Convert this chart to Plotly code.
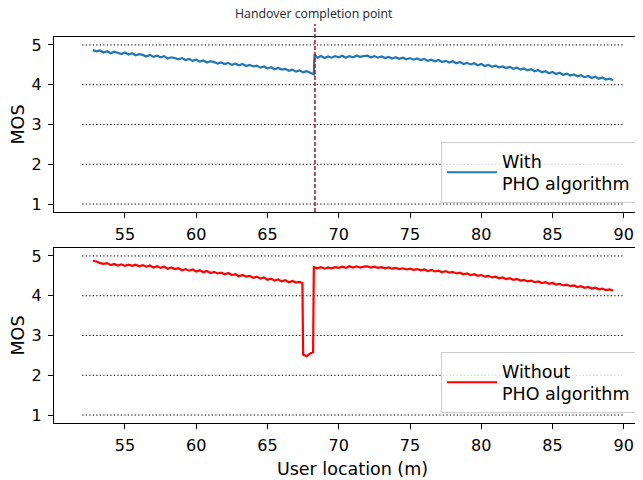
import plotly.graph_objects as go

# ---------------- data ----------------
x_with = [52.75, 53.0, 53.25, 53.5, 53.75, 54.0, 54.25, 54.5, 54.75, 55.0, 55.25, 55.5, 55.75, 56.0, 56.25,
          56.5, 56.75, 57.0, 57.25, 57.5, 57.75, 58.0, 58.25, 58.5, 58.75, 59.0, 59.25, 59.5, 59.75, 60.0,
          60.25, 60.5, 60.75, 61.0, 61.25, 61.5, 61.75, 62.0, 62.25, 62.5, 62.75, 63.0, 63.25, 63.5, 63.75,
          64.0, 64.25, 64.5, 64.75, 65.0, 65.25, 65.5, 65.75, 66.0, 66.25, 66.5, 66.75, 67.0, 67.25, 67.5,
          67.75, 68.0, 68.25,
          68.3, 68.5, 68.75, 69.0, 69.25, 69.5, 69.75, 70.0, 70.25, 70.5, 70.75, 71.0, 71.25, 71.5, 71.75,
          72.0, 72.25, 72.5, 72.75, 73.0, 73.25, 73.5, 73.75, 74.0, 74.25, 74.5, 74.75, 75.0, 75.25, 75.5,
          75.75, 76.0, 76.25, 76.5, 76.75, 77.0, 77.25, 77.5, 77.75, 78.0, 78.25, 78.5, 78.75, 79.0, 79.25,
          79.5, 79.75, 80.0, 80.25, 80.5, 80.75, 81.0, 81.25, 81.5, 81.75, 82.0, 82.25, 82.5, 82.75, 83.0,
          83.25, 83.5, 83.75, 84.0, 84.25, 84.5, 84.75, 85.0, 85.25, 85.5, 85.75, 86.0, 86.25, 86.5, 86.75,
          87.0, 87.25, 87.5, 87.75, 88.0, 88.25, 88.5, 88.75, 89.0, 89.25]
mos_with = [4.87, 4.84, 4.86, 4.81, 4.84, 4.79, 4.83, 4.80, 4.77, 4.81, 4.76, 4.79, 4.74, 4.77, 4.75,
            4.71, 4.75, 4.70, 4.73, 4.69, 4.72, 4.66, 4.69, 4.67, 4.64, 4.67, 4.62, 4.65, 4.60, 4.63,
            4.58, 4.61, 4.56, 4.59, 4.57, 4.53, 4.56, 4.52, 4.55, 4.50, 4.53, 4.49, 4.52, 4.47, 4.50,
            4.46, 4.48, 4.43, 4.46, 4.41, 4.44, 4.39, 4.42, 4.38, 4.40, 4.35, 4.38, 4.33, 4.36, 4.31,
            4.34, 4.30, 4.26,
            4.76, 4.68, 4.72, 4.67, 4.71, 4.68, 4.72, 4.69, 4.73, 4.68, 4.72, 4.69, 4.73, 4.70, 4.72,
            4.73, 4.69, 4.72, 4.68, 4.71, 4.67, 4.70, 4.66, 4.69, 4.65, 4.68, 4.64, 4.67, 4.63, 4.66,
            4.62, 4.65, 4.60, 4.63, 4.59, 4.62, 4.57, 4.60, 4.56, 4.59, 4.54, 4.57, 4.52, 4.55, 4.51,
            4.54, 4.49, 4.52, 4.47, 4.50, 4.45, 4.48, 4.44, 4.46, 4.42, 4.45, 4.40, 4.43, 4.38, 4.41,
            4.36, 4.39, 4.34, 4.37, 4.31, 4.34, 4.29, 4.32, 4.27, 4.30, 4.25, 4.28, 4.23, 4.26, 4.21,
            4.24, 4.19, 4.22, 4.17, 4.20, 4.15, 4.18, 4.13, 4.15, 4.11]

x_without = [52.75, 53.0, 53.25, 53.5, 53.75, 54.0, 54.25, 54.5, 54.75, 55.0, 55.25, 55.5, 55.75, 56.0, 56.25,
             56.5, 56.75, 57.0, 57.25, 57.5, 57.75, 58.0, 58.25, 58.5, 58.75, 59.0, 59.25, 59.5, 59.75, 60.0,
             60.25, 60.5, 60.75, 61.0, 61.25, 61.5, 61.75, 62.0, 62.25, 62.5, 62.75, 63.0, 63.25, 63.5, 63.75,
             64.0, 64.25, 64.5, 64.75, 65.0, 65.25, 65.5, 65.75, 66.0, 66.25, 66.5, 66.75, 67.0, 67.25, 67.45,
             67.5, 67.75, 68.0, 68.2,
             68.25, 68.5, 68.75, 69.0, 69.25, 69.5, 69.75, 70.0, 70.25, 70.5, 70.75, 71.0, 71.25, 71.5, 71.75,
             72.0, 72.25, 72.5, 72.75, 73.0, 73.25, 73.5, 73.75, 74.0, 74.25, 74.5, 74.75, 75.0, 75.25, 75.5,
             75.75, 76.0, 76.25, 76.5, 76.75, 77.0, 77.25, 77.5, 77.75, 78.0, 78.25, 78.5, 78.75, 79.0, 79.25,
             79.5, 79.75, 80.0, 80.25, 80.5, 80.75, 81.0, 81.25, 81.5, 81.75, 82.0, 82.25, 82.5, 82.75, 83.0,
             83.25, 83.5, 83.75, 84.0, 84.25, 84.5, 84.75, 85.0, 85.25, 85.5, 85.75, 86.0, 86.25, 86.5, 86.75,
             87.0, 87.25, 87.5, 87.75, 88.0, 88.25, 88.5, 88.75, 89.0, 89.25]
mos_without = [4.88, 4.86, 4.82, 4.80, 4.82, 4.77, 4.80, 4.76, 4.79, 4.75, 4.78, 4.75, 4.78, 4.74, 4.77,
               4.73, 4.76, 4.71, 4.74, 4.70, 4.73, 4.68, 4.71, 4.67, 4.69, 4.64, 4.67, 4.63, 4.66, 4.61,
               4.64, 4.59, 4.62, 4.57, 4.60, 4.56, 4.58, 4.54, 4.57, 4.52, 4.54, 4.49, 4.52, 4.48, 4.50,
               4.45, 4.48, 4.43, 4.46, 4.40, 4.43, 4.38, 4.41, 4.36, 4.39, 4.34, 4.37, 4.33, 4.35, 4.32,
               2.52, 2.48, 2.55, 2.58,
               4.72, 4.69, 4.72, 4.68, 4.71, 4.69, 4.72, 4.70, 4.73, 4.70, 4.74, 4.71, 4.74, 4.71, 4.73,
               4.74, 4.71, 4.73, 4.70, 4.72, 4.69, 4.71, 4.68, 4.70, 4.67, 4.69, 4.66, 4.68, 4.65, 4.67,
               4.64, 4.66, 4.62, 4.65, 4.61, 4.63, 4.59, 4.62, 4.58, 4.60, 4.56, 4.58, 4.54, 4.56, 4.52,
               4.54, 4.50, 4.52, 4.48, 4.50, 4.46, 4.48, 4.44, 4.46, 4.42, 4.44, 4.40, 4.42, 4.38, 4.40,
               4.36, 4.38, 4.34, 4.36, 4.32, 4.34, 4.30, 4.32, 4.28, 4.30, 4.26, 4.28, 4.24, 4.26, 4.22,
               4.24, 4.20, 4.22, 4.18, 4.20, 4.16, 4.18, 4.14, 4.16, 4.13]

grid_levels = [1, 2, 3, 4, 5]
grid_x_span = [52, 90]
x_ticks = [55, 60, 65, 70, 75, 80, 85, 90]
y_ticks = [1, 2, 3, 4, 5]
handover_x = 68.33
label_with = "With<br>PHO algorithm"
label_without = "Without<br>PHO algorithm"

# ---------------- figure ----------------
FONT = "DejaVu Sans"
FS_TICK = 16
FS_LABEL = 17.5
x_range = [50.02, 91.91]
y_range = [0.8, 5.2]

def grid_trace(xa, ya):
    gx, gy = [], []
    for lv in grid_levels:
        gx += [grid_x_span[0], grid_x_span[1], None]
        gy += [lv, lv, None]
    return go.Scatter(x=gx, y=gy, mode="lines", xaxis=xa, yaxis=ya, showlegend=False,
                      hoverinfo="skip", line=dict(color="black", width=1, dash="1.3px,2.2px"))

fig = go.Figure()
fig.add_trace(grid_trace("x", "y"))
fig.add_trace(grid_trace("x2", "y2"))
fig.add_trace(go.Scatter(x=x_with, y=mos_with, mode="lines", name=label_with, xaxis="x", yaxis="y",
                         legend="legend", line=dict(color="#1f77b4", width=2.2)))
fig.add_trace(go.Scatter(x=x_without, y=mos_without, mode="lines", name=label_without, xaxis="x2", yaxis="y2",
                         legend="legend2", line=dict(color="red", width=2.2)))

axis_common = dict(showline=True, linecolor="black", linewidth=1.1, ticks="outside", ticklen=5,
                   tickwidth=1.1, tickcolor="black", showgrid=False, zeroline=False, automargin=False,
                   tickfont=dict(family=FONT, size=FS_TICK, color="black"), ticklabelstandoff=3)

# plot area spans 386 px vertically
top_dom = [(423 - 212) / 386, 1.0]
bot_dom = [0.0, 175 / 386]
PLOT_W = 643 - 46

legend_style = dict(xanchor="left", yanchor="bottom", bgcolor="rgba(255,255,255,0.8)",
                    bordercolor="#cccccc", borderwidth=1, itemwidth=50,
                    font=dict(family=FONT, size=FS_LABEL, color="black"), valign="middle")

fig.update_layout(
    width=643, height=480,
    margin=dict(l=46, r=0, t=29, b=65),
    paper_bgcolor="white", plot_bgcolor="white",
    font=dict(family=FONT, size=FS_TICK, color="black"),
    xaxis=dict(domain=[0, 1], anchor="y", range=x_range, tickvals=x_ticks, mirror=True, **axis_common),
    yaxis=dict(domain=top_dom, anchor="x", range=y_range, tickvals=y_ticks,
               title=dict(text="MOS", font=dict(family=FONT, size=FS_LABEL), standoff=5), **axis_common),
    xaxis2=dict(domain=[0, 1], anchor="y2", range=x_range, tickvals=x_ticks, mirror=True,
                title=dict(text="User location (m)", font=dict(family=FONT, size=FS_LABEL), standoff=8),
                **axis_common),
    yaxis2=dict(domain=bot_dom, anchor="x2", range=y_range, tickvals=y_ticks,
                title=dict(text="MOS", font=dict(family=FONT, size=FS_LABEL), standoff=5), **axis_common),
    legend=dict(x=(441 - 54) / PLOT_W, y=(423 - 203) / 386, **legend_style),
    legend2=dict(x=(441 - 54) / PLOT_W, y=(423 - 413) / 386, **legend_style),
    showlegend=True,
)

# handover completion marker (vertical dashed line + label)
fig.add_shape(type="line", xref="x", yref="paper", x0=handover_x, x1=handover_x,
              y0=top_dom[0], y1=(423 - 24) / 386,
              line=dict(color="#a3161c", width=1.5, dash="4px,2px"))
fig.add_annotation(text="Handover completion point", xref="x", yref="paper", x=handover_x - 0.1,
                   y=(423 - 13) / 386, showarrow=False, xanchor="center", yanchor="middle",
                   font=dict(family="Open Sans", size=12.3, color="#222222"))

fig.write_html("out.html")
